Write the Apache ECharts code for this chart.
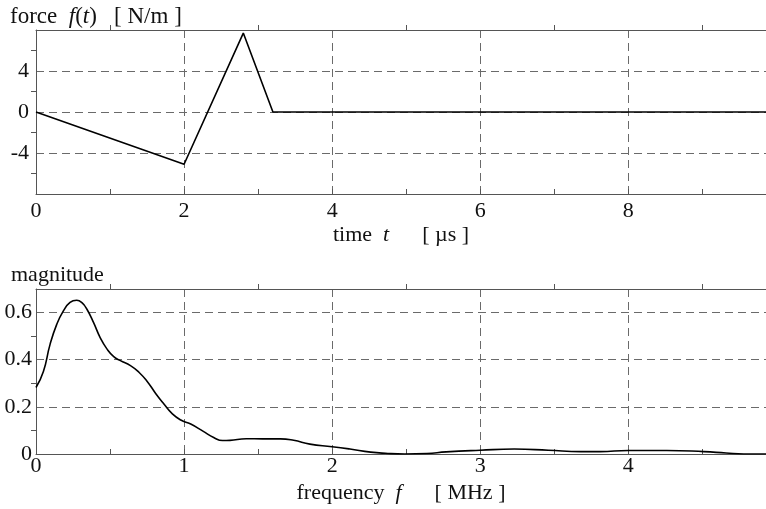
<!DOCTYPE html>
<html>
<head>
<meta charset="utf-8">
<script src="https://cdn.jsdelivr.net/npm/echarts@6/dist/echarts.min.js"></script>
<style>
  html, body { margin: 0; padding: 0; background: #fff; }
  #main { width: 766px; height: 509px; }
</style>
</head>
<body>
<div id="main"></div>
<script>
// force pulse f(t), t in microseconds
var timeT = [0, 2, 2.8, 3.2, 9.86];
var forceF = [0, -5.1, 7.7, 0, 0];

// spectrum magnitude, f in MHz
var freqF = [0, 0.05, 0.095, 0.14, 0.185, 0.23, 0.275, 0.31, 0.344, 0.389, 0.434, 0.48, 0.525,
  0.57, 0.638, 0.695, 0.751, 0.808, 0.864, 0.921, 0.978, 1.045, 1.13, 1.2, 1.26, 1.31, 1.42, 1.53,
  1.65, 1.74, 1.85, 2.0, 2.12, 2.26, 2.36, 2.49, 2.64, 2.77, 3.0, 3.23, 3.46, 3.68, 3.81, 4.0,
  4.26, 4.51, 4.66, 4.78, 4.93];
var magnitude = [0.282, 0.35, 0.465, 0.55, 0.607, 0.643, 0.652, 0.642, 0.614, 0.557, 0.493, 0.445, 0.413,
  0.396, 0.375, 0.347, 0.308, 0.257, 0.212, 0.17, 0.144, 0.127, 0.096, 0.07, 0.057, 0.058, 0.065, 0.064,
  0.064, 0.058, 0.042, 0.031, 0.021, 0.008, 0.003, 0.0, 0.002, 0.009, 0.016, 0.021, 0.016, 0.01, 0.01,
  0.015, 0.015, 0.01, 0.004, 0.0, 0.0];

var serif = "'Liberation Serif', 'DejaVu Serif', serif";
var axisCol = '#555';
var gridLine = { show: true, lineStyle: { color: '#6a6a6a', width: 1, type: [8, 5] } };
var lbl = { color: '#111', fontFamily: serif, fontSize: 22 };
var nameStyle = { color: '#111', fontFamily: serif, fontSize: 22,
  rich: { i: { fontStyle: 'italic', fontFamily: serif, fontSize: 22, color: '#111' } } };

function bottomAxis(grid, max, interval, name, margin, gap) {
  return {
    type: 'value', gridIndex: grid, position: 'bottom', min: 0, max: max, interval: interval,
    axisLine: { show: true, onZero: false, lineStyle: { color: axisCol, width: 1 } },
    axisTick: { show: true, inside: true, length: 5, lineStyle: { color: axisCol } },
    minorTick: { show: true, splitNumber: 2, length: 5, lineStyle: { color: axisCol } },
    axisLabel: Object.assign({ margin: margin, showMaxLabel: false }, lbl),
    splitLine: gridLine,
    name: name, nameLocation: 'middle', nameGap: gap, nameTextStyle: nameStyle
  };
}
function topAxis(grid, max, interval) {
  return {
    type: 'value', gridIndex: grid, position: 'top', min: 0, max: max, interval: interval,
    axisLine: { show: true, onZero: false, lineStyle: { color: axisCol, width: 1 } },
    axisTick: { show: false },
    minorTick: { show: true, splitNumber: 2, length: 5, lineStyle: { color: axisCol } },
    axisLabel: { show: false }, splitLine: { show: false }
  };
}
function leftAxis(grid, min, max, interval, margin) {
  return {
    type: 'value', gridIndex: grid, min: min, max: max, interval: interval,
    axisLine: { show: true, onZero: false, lineStyle: { color: axisCol, width: 1 } },
    axisTick: { show: false },
    minorTick: { show: true, splitNumber: 2, length: 5, lineStyle: { color: axisCol } },
    axisLabel: Object.assign({ margin: margin, showMaxLabel: false, showMinLabel: min === 0 }, lbl),
    splitLine: gridLine
  };
}

var chart = echarts.init(document.getElementById('main'));
chart.setOption({
  backgroundColor: '#fff',
  animation: false,
  title: [
    { text: 'force  {i|f}({i|t})   [ N/m ]', left: 5, top: 0,
      textStyle: { fontFamily: serif, fontSize: 23, fontWeight: 'normal', color: '#111',
        rich: { i: { fontStyle: 'italic', fontFamily: serif, fontSize: 23, color: '#111' } } } },
    { text: 'magnitude', left: 6, top: 259,
      textStyle: { fontFamily: serif, fontSize: 22, fontWeight: 'normal', color: '#111' } }
  ],
  grid: [
    { left: 36, right: 0, top: 30, height: 164 },
    { left: 36, right: 0, top: 289, height: 165 }
  ],
  xAxis: [
    bottomAxis(0, 9.86, 2, 'time  {i|t}      [ µs ]', 6, 30),
    topAxis(0, 9.86, 2),
    bottomAxis(1, 4.93, 1, 'frequency  {i|f}      [ MHz ]', 1, 28),
    topAxis(1, 4.93, 1)
  ],
  yAxis: [
    leftAxis(0, -8, 8, 4, 7),
    leftAxis(1, 0, 0.7, 0.2, 4)
  ],
  series: [
    { type: 'line', xAxisIndex: 0, yAxisIndex: 0, showSymbol: false,
      data: timeT.map(function (t, i) { return [t, forceF[i]]; }),
      lineStyle: { color: '#000', width: 1.6 } },
    { type: 'line', xAxisIndex: 2, yAxisIndex: 1, showSymbol: false, smooth: 0.5,
      data: freqF.map(function (f, i) { return [f, magnitude[i]]; }),
      lineStyle: { color: '#000', width: 1.6 } }
  ]
});
</script>
</body>
</html>
